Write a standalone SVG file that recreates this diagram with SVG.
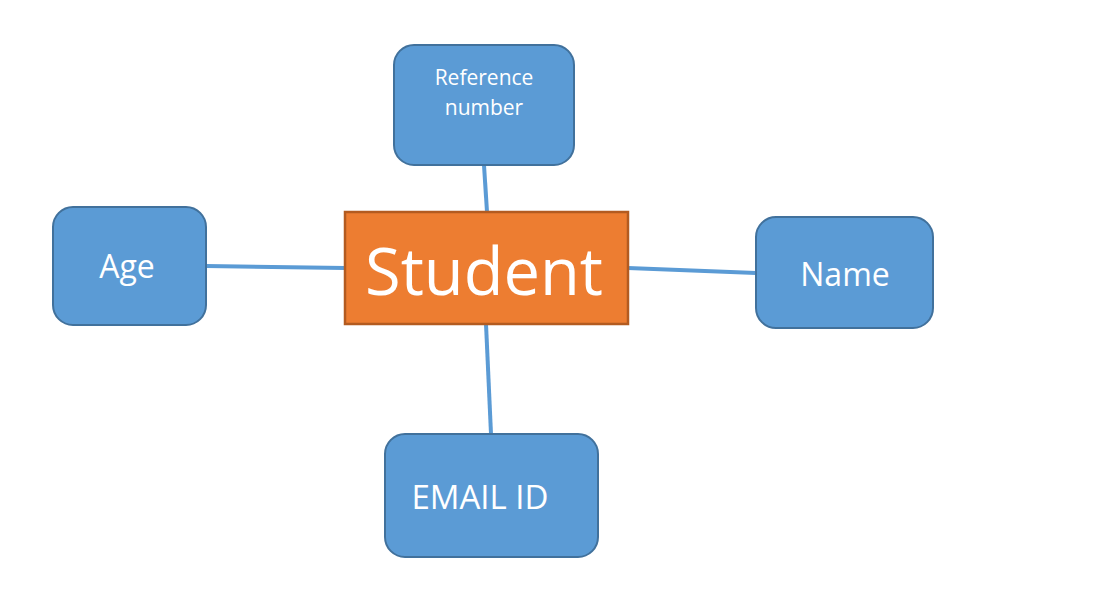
<svg xmlns="http://www.w3.org/2000/svg" width="1096" height="604" viewBox="0 0 1096 604">
<style>
.attr{fill:#5B9BD5;stroke:#41719C;stroke-width:2}
.ent{fill:#ED7D31;stroke:#B35B20;stroke-width:2.5}
.lbl{fill:#FFFFFF;font-family:"Open Sans","Liberation Sans",sans-serif;text-anchor:middle}
.conn line{stroke:#5B9BD5;stroke-width:4}
</style>
<rect width="1096" height="604" fill="#FFFFFF"/>
<g id="connectors" class="conn">
<line x1="484" y1="165" x2="487" y2="212"/>
<line x1="206" y1="266" x2="345" y2="268"/>
<line x1="628" y1="268" x2="756" y2="273"/>
<line x1="486" y1="324" x2="491" y2="434"/>
</g>
<g id="student">
<rect class="ent" x="345" y="212" width="283" height="112"/>
<text class="lbl" x="484" y="295" font-size="65">Student</text>
</g>
<g id="reference-number">
<rect class="attr" x="394" y="45" width="180" height="120" rx="20"/>
<text class="lbl" x="484" y="85" font-size="21">Reference</text>
<text class="lbl" x="484" y="115" font-size="21">number</text>
</g>
<g id="age">
<rect class="attr" x="53" y="207" width="153" height="118" rx="20"/>
<text class="lbl" x="127" y="278" font-size="32">Age</text>
</g>
<g id="name">
<rect class="attr" x="756" y="217" width="177" height="111" rx="20"/>
<text class="lbl" x="845" y="286" font-size="32">Name</text>
</g>
<g id="email-id">
<rect class="attr" x="385" y="434" width="213" height="123" rx="20"/>
<text class="lbl" x="480" y="509" font-size="33">EMAIL ID</text>
</g>
</svg>
